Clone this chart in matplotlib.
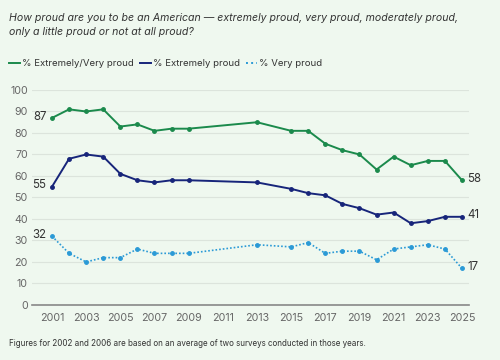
import matplotlib
matplotlib.use("Agg")
import matplotlib.pyplot as plt

years = [2001, 2002, 2003, 2004, 2005, 2006, 2007, 2008, 2009, 2013,
         2015, 2016, 2017, 2018, 2019, 2020, 2021, 2022, 2023, 2024, 2025]
ext_very = [87, 91, 90, 91, 83, 84, 81, 82, 82, 85,
            81, 81, 75, 72, 70, 63, 69, 65, 67, 67, 58]
extremely = [55, 68, 70, 69, 61, 58, 57, 58, 58, 57,
             54, 52, 51, 47, 45, 42, 43, 38, 39, 41, 41]
very = [32, 24, 20, 22, 22, 26, 24, 24, 24, 28,
        27, 29, 24, 25, 25, 21, 26, 27, 28, 26, 17]
xticks = list(range(2001, 2026, 2))
yticks = list(range(0, 101, 10))

bg = "#eff8ef"
green = "#1b8a4c"
navy = "#17257a"
blue = "#2b9ad6"

plt.rcParams["font.family"] = ["Inter", "DejaVu Sans"]

fig = plt.figure(figsize=(5, 3.6), dpi=100, facecolor=bg)
ax = fig.add_axes([0.064, 0.153, 0.874, 0.597], facecolor=bg)

ax.plot(years, ext_very, color=green, lw=1.4, marker="o", ms=2.5)
ax.plot(years, extremely, color=navy, lw=1.4, marker="o", ms=2.5)
ax.plot(years, very, color=blue, lw=1.2, ls=(0, (1, 1.2)), marker="o", ms=2.5)

for series in [ext_very, extremely, very]:
    ax.annotate(str(series[0]), (years[0], series[0]), xytext=(-4, 1),
                textcoords="offset points", ha="right", va="center",
                fontsize=8.3, color="#333333")
    ax.annotate(str(series[-1]), (years[-1], series[-1]), xytext=(4, 1),
                textcoords="offset points", ha="left", va="center",
                fontsize=8.3, color="#333333")

ax.set_xlim(1999.83, 2025.41)
ax.set_ylim(0, 100)
ax.set_xticks(xticks)
ax.set_yticks(yticks)
ax.grid(axis="y", color="#dce4dc", lw=0.8)
ax.set_axisbelow(True)
for s in ["top", "right", "left"]:
    ax.spines[s].set_visible(False)
ax.spines["bottom"].set_color("#888888")
ax.spines["bottom"].set_linewidth(1.2)
ax.tick_params(axis="both", length=0, labelsize=7.7, colors="#666666")
ax.tick_params(axis="x", pad=6)
ax.tick_params(axis="y", pad=3)

fig.text(0.018, 0.965, "How proud are you to be an American \u2014 extremely proud, very proud, moderately proud,\nonly a little proud or not at all proud?",
         ha="left", va="top", fontsize=7.6, style="italic", color="#333333", linespacing=1.6)

# legend
ly = 0.825
items = [("% Extremely/Very proud", green, "-"), ("% Extremely proud", navy, "-"), ("% Very proud", blue, ":")]
pos = [0.018, 0.28, 0.492]
for (lab, col, st), x0 in zip(items, pos):
    fig.lines.append(plt.Line2D([x0, x0 + 0.022], [ly, ly], transform=fig.transFigure,
                                color=col, lw=1.4, ls=st))
    fig.text(x0 + 0.026, ly, lab, ha="left", va="center", fontsize=6.9, color="#333333")

fig.text(0.018, 0.047, "Figures for 2002 and 2006 are based on an average of two surveys conducted in those years.",
         ha="left", va="center", fontsize=5.8, color="#333333")

fig.savefig("out.png", dpi=100, facecolor=bg)
